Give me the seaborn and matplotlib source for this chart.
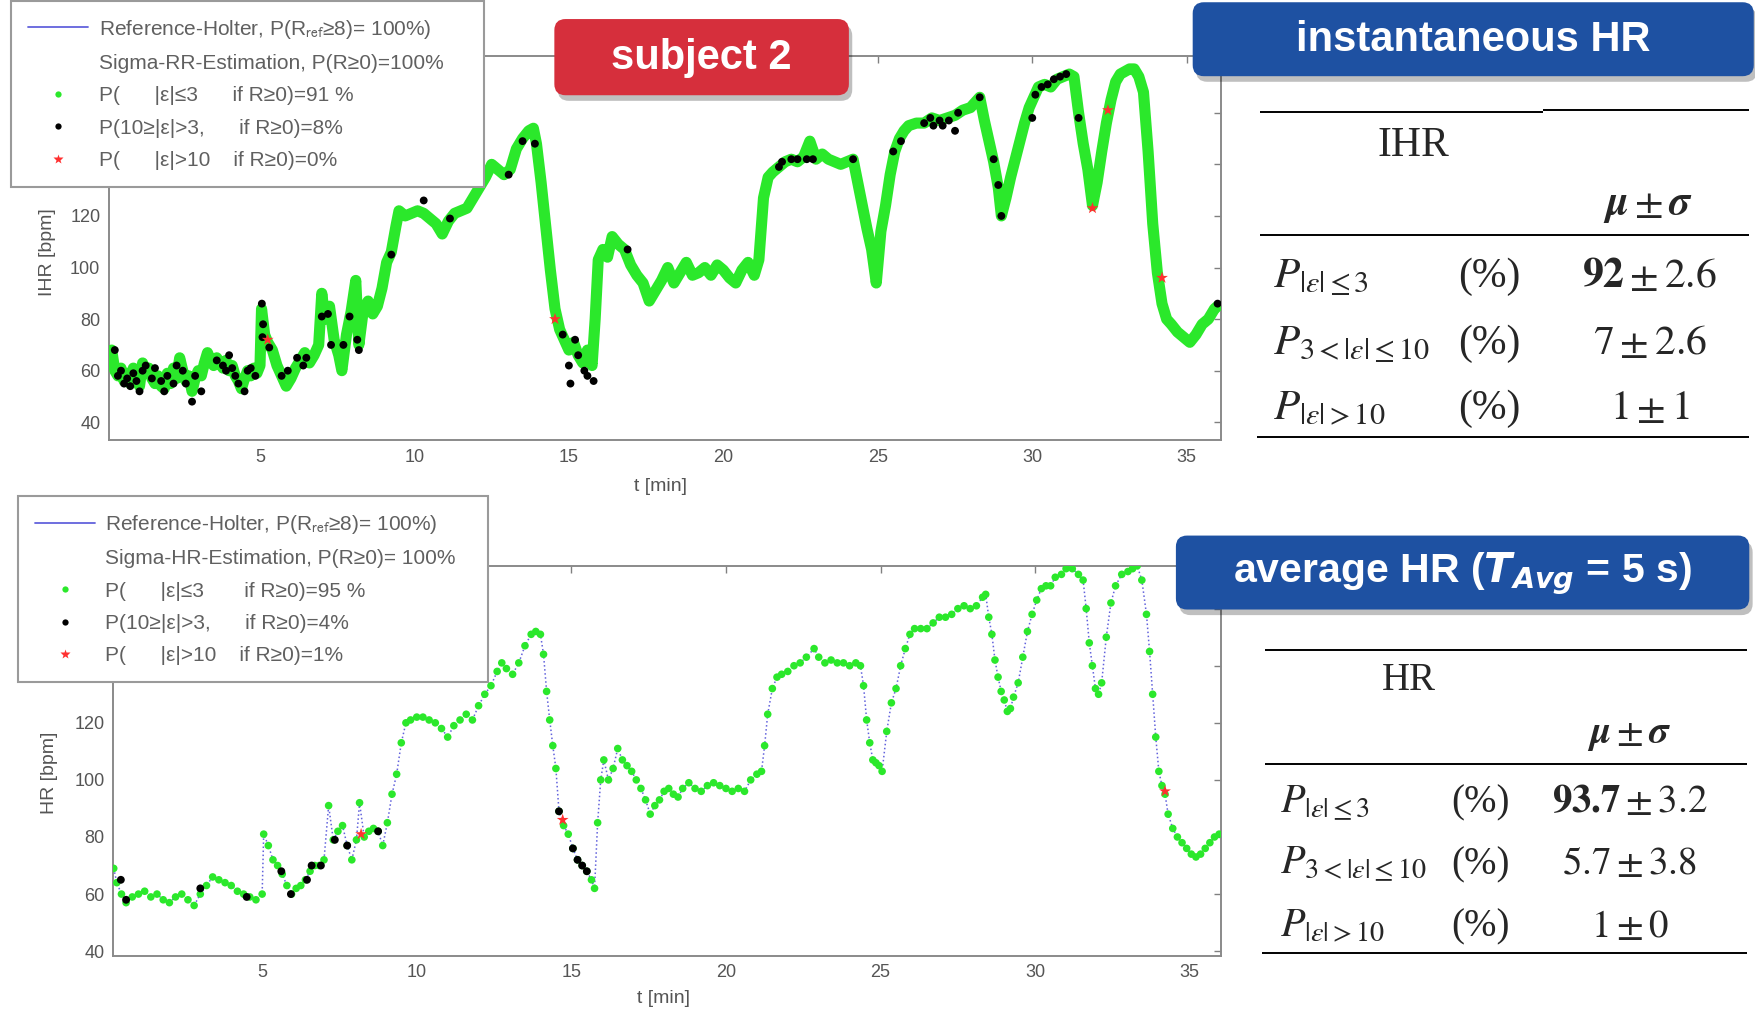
import matplotlib
matplotlib.use('Agg')
import matplotlib.pyplot as plt
import seaborn as sns
from matplotlib.patches import FancyBboxPatch
from matplotlib.lines import Line2D

sns.set_theme(style='white')
plt.rcParams['font.family'] = ['Liberation Sans', 'DejaVu Sans']
plt.rcParams['mathtext.fontset'] = 'stix'

# ---- instantaneous HR (top panel) ----
ihr_t = [0.2, 0.3, 0.4, 0.5, 0.6, 0.7, 0.8, 0.9, 1.0, 1.1,
         1.2, 1.3, 1.4, 1.5, 1.6, 1.7, 1.8, 1.9, 2.0, 2.1,
         2.2, 2.3, 2.4, 2.5, 2.6, 2.7, 2.8, 2.9, 3.0, 3.1,
         3.2, 3.3, 3.4, 3.5, 3.6, 3.7, 3.8, 3.9, 4.0, 4.1,
         4.2, 4.3, 4.4, 4.5, 4.6, 4.7, 4.8, 4.9, 5.0, 5.05,
         5.15, 5.25, 5.4, 5.55, 5.7, 5.85, 6.0, 6.15, 6.3, 6.45,
         6.6, 6.75, 6.9, 7.0, 7.1, 7.25, 7.4, 7.55, 7.65, 7.8,
         7.95, 8.1, 8.2, 8.35, 8.5, 8.65, 8.8, 8.95, 9.1, 9.25,
         9.4, 9.5, 9.7, 9.9, 10.1, 10.3, 10.5, 10.7, 10.9, 11.1,
         11.3, 11.5, 11.7, 11.9, 12.1, 12.3, 12.5, 12.7, 12.9, 13.1,
         13.3, 13.5, 13.7, 13.85, 13.95, 14.1, 14.25, 14.4, 14.55, 14.7,
         14.85, 15.0, 15.15, 15.3, 15.45, 15.6, 15.75, 15.85, 15.95, 16.1,
         16.25, 16.4, 16.6, 16.8, 17.0, 17.2, 17.4, 17.6, 17.8, 18.0,
         18.2, 18.4, 18.6, 18.8, 19.0, 19.2, 19.4, 19.6, 19.8, 20.0,
         20.2, 20.4, 20.6, 20.8, 21.0, 21.15, 21.3, 21.45, 21.6, 21.8,
         22.0, 22.2, 22.4, 22.6, 22.8, 23.0, 23.2, 23.4, 23.6, 23.8,
         24.0, 24.2, 24.35, 24.5, 24.65, 24.8, 24.95, 25.1, 25.25, 25.4,
         25.55, 25.7, 25.85, 26.0, 26.25, 26.5, 26.75, 27.0, 27.25, 27.5,
         27.75, 28.0, 28.15, 28.3, 28.45, 28.6, 28.75, 28.9, 29.0, 29.15,
         29.3, 29.45, 29.6, 29.75, 29.9, 30.05, 30.2, 30.4, 30.6, 30.8,
         31.0, 31.2, 31.35, 31.5, 31.65, 31.8, 31.95, 32.1, 32.25, 32.4,
         32.55, 32.7, 32.85, 33.0, 33.15, 33.3, 33.45, 33.6, 33.75, 33.9,
         34.05, 34.2, 34.35, 34.5, 34.7, 34.9, 35.1, 35.3, 35.5, 35.7,
         35.9, 36.0]
ihr_bpm = [68, 60, 58, 61, 56, 59, 55, 61, 57, 54,
           63, 59, 61, 57, 55, 58, 54, 53, 59, 55,
           61, 57, 65, 60, 56, 58, 52, 57, 60, 58,
           63, 67, 64, 62, 65, 63, 61, 64, 60, 62,
           58, 56, 53, 57, 60, 58, 61, 59, 62, 84,
           74, 71, 68, 62, 58, 54, 57, 61, 64, 67,
           63, 66, 70, 90, 80, 85, 72, 66, 60, 74,
           83, 95, 70, 84, 87, 82, 85, 92, 102, 106,
           116, 122, 120, 121, 122, 121, 119, 117, 113, 118,
           121, 122, 123, 127, 131, 135, 140, 138, 136, 138,
           146, 150, 153, 154, 148, 133, 116, 99, 84, 76,
           72, 68, 71, 66, 63, 68, 62, 80, 103, 107,
           104, 112, 109, 107, 101, 97, 94, 87, 91, 95,
           100, 94, 98, 102, 97, 98, 100, 97, 101, 99,
           96, 94, 99, 102, 97, 103, 127, 135, 137, 139,
           141, 142, 141, 143, 149, 142, 144, 142, 141, 140,
           141, 142, 133, 124, 115, 107, 94, 114, 124, 136,
           145, 150, 153, 155, 156, 156, 158, 157, 158, 159,
           161, 162, 164, 166, 157, 149, 141, 131, 120, 127,
           135, 142, 149, 156, 162, 166, 170, 171, 170, 173,
           174, 175, 174, 160, 148, 138, 124, 133, 145, 156,
           165, 172, 175, 176, 177, 177, 174, 168, 145, 117,
           98, 86, 80, 78, 75, 73, 71, 74, 78, 80,
           84, 85]

# beats with 3 < |e| <= 10 (black) and |e| > 10 (red)
ihr_mid_t = [0.3, 0.4, 0.5, 0.6, 0.7, 0.8, 0.9, 1.0, 1.1, 1.2,
             1.3, 1.5, 1.6, 1.8, 1.9, 2.0, 2.2, 2.3, 2.5, 2.6,
             2.8, 2.9, 3.1, 3.6, 3.8, 3.9, 4.0, 4.1, 4.2, 4.3,
             4.5, 4.6, 4.7, 4.85, 5.06, 5.1, 5.08, 5.3, 5.7, 5.9,
             6.2, 6.4, 6.5, 7.0, 7.2, 7.3, 7.7, 7.9, 8.15, 8.2,
             9.25, 10.3, 11.15, 13.05, 13.5, 13.9, 14.8, 15.0, 15.05, 15.2,
             15.3, 15.5, 15.6, 15.8, 16.9, 21.8, 21.9, 22.2, 22.4, 22.7,
             22.9, 24.2, 25.5, 25.75, 26.5, 26.7, 26.8, 27.0, 27.1, 27.3,
             27.5, 27.6, 28.3, 28.75, 28.9, 29.0, 30.0, 30.1, 30.3, 30.5,
             30.7, 30.9, 31.1, 31.5, 36.0]
ihr_mid_bpm = [68, 58, 60, 55, 57, 54, 59, 56, 52, 60,
               62, 57, 61, 56, 52, 58, 55, 62, 60, 55,
               48, 58, 52, 64, 62, 60, 66, 61, 58, 55,
               52, 60, 61, 58, 86, 78, 73, 69, 58, 60,
               65, 62, 65, 81, 82, 70, 70, 81, 72, 68,
               105, 126, 119, 136, 149, 148, 74, 62, 55, 72,
               66, 60, 58, 56, 107, 139, 141, 142, 142, 142,
               142, 142, 145, 149, 156, 158, 155, 157, 155, 157,
               153, 160, 166, 142, 132, 120, 158, 167, 170, 171,
               173, 174, 175, 158, 86]
ihr_bad_t = [5.25, 14.55, 31.95, 32.45, 34.2]
ihr_bad_bpm = [72, 80, 123, 161, 96]

# ---- 5 s average HR (bottom panel) ----
hr_t = [0.2, 0.3, 0.45, 0.6, 0.8, 1.0, 1.2, 1.4, 1.6, 1.8,
        2.0, 2.2, 2.4, 2.6, 2.8, 3.0, 3.2, 3.4, 3.6, 3.8,
        4.0, 4.2, 4.4, 4.6, 4.8, 5.0, 5.05, 5.2, 5.35, 5.5,
        5.65, 5.8, 5.95, 6.1, 6.25, 6.4, 6.55, 6.7, 6.85, 7.0,
        7.15, 7.3, 7.45, 7.6, 7.75, 7.9, 8.05, 8.15, 8.3, 8.45,
        8.6, 8.75, 8.9, 9.05, 9.2, 9.35, 9.5, 9.65, 9.8, 10.0,
        10.2, 10.4, 10.6, 10.8, 11.0, 11.2, 11.4, 11.6, 11.8, 12.0,
        12.2, 12.4, 12.6, 12.75, 12.9, 13.1, 13.3, 13.5, 13.7, 13.85,
        14.0, 14.1, 14.2, 14.3, 14.4, 14.5, 14.6, 14.75, 14.9, 15.05,
        15.2, 15.35, 15.5, 15.65, 15.75, 15.85, 15.95, 16.05, 16.2, 16.35,
        16.5, 16.65, 16.8, 16.95, 17.1, 17.25, 17.4, 17.55, 17.7, 17.85,
        18.0, 18.15, 18.3, 18.45, 18.6, 18.8, 19.0, 19.2, 19.4, 19.6,
        19.8, 20.0, 20.2, 20.4, 20.6, 20.8, 21.0, 21.15, 21.25, 21.35,
        21.5, 21.65, 21.8, 22.0, 22.2, 22.4, 22.6, 22.85, 23.0, 23.2,
        23.4, 23.6, 23.8, 24.0, 24.2, 24.35, 24.45, 24.55, 24.65, 24.75,
        24.85, 24.95, 25.05, 25.2, 25.35, 25.5, 25.65, 25.8, 25.95, 26.1,
        26.3, 26.5, 26.7, 26.9, 27.1, 27.3, 27.5, 27.7, 27.9, 28.1,
        28.3, 28.4, 28.5, 28.6, 28.7, 28.8, 28.9, 29.0, 29.1, 29.2,
        29.3, 29.45, 29.6, 29.75, 29.9, 30.05, 30.2, 30.35, 30.5, 30.65,
        30.85, 31.0, 31.2, 31.4, 31.55, 31.65, 31.75, 31.85, 31.95, 32.05,
        32.15, 32.3, 32.45, 32.6, 32.8, 33.0, 33.15, 33.3, 33.45, 33.6,
        33.7, 33.8, 33.9, 34.0, 34.1, 34.2, 34.3, 34.45, 34.6, 34.75,
        34.9, 35.05, 35.2, 35.35, 35.5, 35.65, 35.8, 35.95]
hr_bpm = [69, 64, 60, 57, 59, 60, 61, 59, 60, 58,
          57, 59, 60, 58, 56, 60, 63, 66, 65, 64,
          63, 61, 60, 59, 58, 60, 81, 77, 72, 70,
          67, 63, 60, 62, 63, 65, 68, 70, 70, 72,
          91, 79, 82, 84, 77, 72, 79, 92, 80, 82,
          83, 82, 77, 85, 95, 102, 113, 120, 121, 122,
          122, 121, 120, 118, 115, 119, 121, 123, 121, 126,
          130, 133, 138, 141, 139, 137, 141, 147, 151, 152,
          151, 144, 131, 121, 112, 104, 89, 84, 81, 76,
          72, 70, 68, 65, 62, 85, 100, 107, 100, 104,
          111, 107, 105, 103, 100, 97, 93, 88, 91, 93,
          96, 97, 95, 94, 97, 99, 97, 96, 98, 99,
          98, 97, 96, 97, 96, 100, 102, 103, 112, 123,
          132, 136, 137, 138, 140, 141, 143, 146, 143, 141,
          142, 141, 141, 140, 141, 140, 133, 121, 113, 107,
          106, 105, 103, 117, 127, 132, 140, 146, 151, 153,
          153, 153, 155, 157, 157, 158, 160, 161, 160, 161,
          164, 165, 157, 151, 142, 136, 131, 128, 124, 125,
          129, 134, 143, 152, 158, 163, 167, 168, 168, 171,
          172, 174, 174, 172, 170, 160, 148, 140, 132, 130,
          134, 150, 162, 168, 172, 173, 174, 175, 170, 158,
          145, 130, 115, 103, 98, 95, 88, 83, 80, 78,
          76, 74, 73, 74, 76, 78, 80, 81]
hr_mid_t = [0.43, 0.6, 3.0, 4.5, 5.62, 5.93, 6.45, 6.6, 6.9, 7.35,
            7.75, 8.75, 14.6, 15.05, 15.2, 15.35, 15.5]
hr_mid_bpm = [65, 58, 62, 59, 68, 60, 65, 70, 70, 79,
              77, 82, 89, 76, 72, 70, 68]
hr_bad_t = [8.2, 14.72, 34.2]
hr_bad_bpm = [81, 86, 96]

legend_top = ['Reference-Holter, P(R$_{\\mathrm{ref}}$≥8)= 100%)',
              'Sigma-RR-Estimation, P(R≥0)=100%',
              'P(      |ε|≤3      if R≥0)=91 %',
              'P(10≥|ε|>3,      if R≥0)=8%',
              'P(      |ε|>10    if R≥0)=0%']
legend_bot = ['Reference-Holter, P(R$_{\\mathrm{ref}}$≥8)= 100%)',
              'Sigma-HR-Estimation, P(R≥0)= 100%',
              'P(      |ε|≤3       if R≥0)=95 %',
              'P(10≥|ε|>3,      if R≥0)=4%',
              'P(      |ε|>10    if R≥0)=1%']

row_labels = [r'$P_{|\varepsilon|\leq 3}$',
              r'$P_{3<|\varepsilon|\leq 10}$',
              r'$P_{|\varepsilon|>10}$']
ihr_stats = [r'$\mathbf{92}\pm 2.6$', r'$7\pm 2.6$', r'$1\pm 1$']
hr_stats = [r'$\mathbf{93.7}\pm 3.2$', r'$5.7\pm 3.8$', r'$1\pm 0$']

GREEN = '#2be82b'
BLUE = '#6262dc'
RED = '#ff3030'
GRAY = '#555555'

W, H = 1568, 905


def box(l, t, r, b):
    return [l / W, 1 - b / H, (r - l) / W, (b - t) / H]


fig = plt.figure(figsize=(17.56, 10.14), dpi=100)
ax1 = fig.add_axes(box(97, 50, 1090, 393))
ax2 = fig.add_axes(box(101, 505, 1090, 853))

# top: dense beat-by-beat trace
sns.lineplot(x=ihr_t, y=ihr_bpm, ax=ax1, color=BLUE, linewidth=1, sort=False, zorder=2)
sns.lineplot(x=ihr_t, y=ihr_bpm, ax=ax1, color=GREEN, linewidth=8, sort=False, zorder=3)
sns.scatterplot(x=ihr_t, y=ihr_bpm, ax=ax1, color=GREEN, s=34, edgecolor='none', zorder=4)
sns.scatterplot(x=ihr_mid_t, y=ihr_mid_bpm, ax=ax1, color='black', s=32, edgecolor='none', zorder=5)
sns.scatterplot(x=ihr_bad_t, y=ihr_bad_bpm, ax=ax1, color=RED, marker='*', s=80, edgecolor='none', zorder=6)

# bottom: 5 s averages
sns.lineplot(x=hr_t, y=hr_bpm, ax=ax2, color=BLUE, linewidth=1.1, linestyle=':', sort=False, zorder=3)
sns.scatterplot(x=hr_t, y=hr_bpm, ax=ax2, color=GREEN, s=30, edgecolor='none', zorder=4)
sns.scatterplot(x=hr_mid_t, y=hr_mid_bpm, ax=ax2, color='black', s=32, edgecolor='none', zorder=5)
sns.scatterplot(x=hr_bad_t, y=hr_bad_bpm, ax=ax2, color=RED, marker='*', s=80, edgecolor='none', zorder=6)


def style(ax, xlim, ylim, yticks, ylabel, lab_pos, xlab_y):
    ax.set_xlim(xlim)
    ax.set_ylim(ylim)
    ax.set_xticks([5, 10, 15, 20, 25, 30, 35])
    ax.set_yticks(yticks)
    ax.tick_params(direction='in', length=5, width=1, color='#808080', labelcolor=GRAY,
                   labelsize=13, top=True, right=True, pad=6)
    for s in ax.spines.values():
        s.set_visible(True)
        s.set_color('#8a8a8a')
        s.set_linewidth(1.4)
    ax.set_xlabel('t [min]', fontsize=14, color=GRAY)
    ax.xaxis.set_label_coords(0.4965, xlab_y)
    ax.set_ylabel(ylabel, fontsize=14, color=GRAY)
    ax.yaxis.set_label_coords(*lab_pos)


style(ax1, (0.1, 36.1), (33, 182), range(40, 181, 20), 'IHR [bpm]', (-0.047, 0.49), -0.097)
style(ax2, (0.18, 36.0), (38.4, 175), range(40, 161, 20), 'HR [bpm]', (-0.050, 0.468), -0.088)

handles = [Line2D([0], [0], color=BLUE, lw=1.3),
           Line2D([], [], ls='none'),
           Line2D([0], [0], ls='none', marker='o', ms=4.5, mfc=GREEN, mec='none'),
           Line2D([0], [0], ls='none', marker='o', ms=4.5, mfc='black', mec='none'),
           Line2D([0], [0], ls='none', marker='*', ms=7, mfc=RED, mec='none')]


def add_legend(ax, labels, l, t, r):
    leg = ax.legend(handles, labels, loc='upper left', mode='expand',
                    bbox_to_anchor=(l / W, 1 - t / H, (r - l) / W, 0.01),
                    bbox_transform=fig.transFigure, borderaxespad=0, fontsize=15,
                    handlelength=2.9, handletextpad=0.5, borderpad=0.8, labelspacing=0.64,
                    frameon=True, fancybox=False, framealpha=1, edgecolor='#9a9a9a')
    leg.get_frame().set_linewidth(1.5)
    leg.set_zorder(20)
    for txt in leg.get_texts():
        txt.set_color('#606060')
        txt.set_math_fontfamily('stixsans')


add_legend(ax1, legend_top, 10, 10, 432)
add_legend(ax2, legend_bot, 16, 452, 436)

# overlay in picture coordinates for badges and tables
ov = fig.add_axes([0, 0, 1, 1])
ov.set_xlim(0, W)
ov.set_ylim(H, 0)
ov.axis('off')
ov.patch.set_alpha(0)
ov.set_zorder(30)


def badge(l, t, r, b, color, text, fs):
    ov.add_patch(FancyBboxPatch((l + 3, t + 5), r - l, b - t, boxstyle='round,pad=0,rounding_size=10',
                                fc='#000000', ec='none', alpha=0.25))
    ov.add_patch(FancyBboxPatch((l, t), r - l, b - t, boxstyle='round,pad=0,rounding_size=10',
                                fc=color, ec='none'))
    ov.text((l + r) / 2, (t + b) / 2 + 1, text, color='white', fontsize=fs, fontweight='bold',
            ha='center', va='center', math_fontfamily='dejavusans')


badge(495, 17, 758, 85, '#d62f3c', 'subject 2', 30)
badge(1065, 2, 1566, 68, '#1e51a2', 'instantaneous HR', 30)
badge(1050, 478, 1562, 544, '#1e51a2', r'average HR ($\mathbfit{T}_{\mathbfit{Avg}}$ = 5 s)', 29.5)


def table(lines, head, head_xy, mu_xy, p_x, pct_x, val_x, baselines, values, fs):
    for x0, x1, y in lines:
        ov.plot([x0, x1], [y, y], color='black', lw=1.4, solid_capstyle='butt')
    ov.text(*head_xy, head, fontsize=fs, family='Liberation Serif', ha='center', va='center')
    ov.text(*mu_xy, r'$\mathbfit{\mu}\pm\mathbfit{\sigma}$', fontsize=fs, ha='center', va='center')
    for lab, val, y in zip(row_labels, values, baselines):
        ov.text(p_x, y, lab, fontsize=fs + 1, ha='left', va='baseline')
        ov.text(pct_x, y, '(%)', fontsize=fs, family='Liberation Serif', ha='center', va='baseline')
        ov.text(val_x, y, val, fontsize=fs, ha='center', va='baseline')


table([(1125, 1378, 100), (1378, 1562, 98), (1125, 1562, 210), (1122, 1562, 390)],
      'IHR', (1262, 130), (1472, 183), 1137, 1330, 1473, (256, 316, 374), ihr_stats, 30)
table([(1130, 1560, 580), (1130, 1560, 682), (1127, 1560, 851)],
      'HR', (1258, 607), (1455, 656), 1143, 1322, 1455, (725, 780, 836), hr_stats, 28)

fig.savefig('out.png', dpi=100)
